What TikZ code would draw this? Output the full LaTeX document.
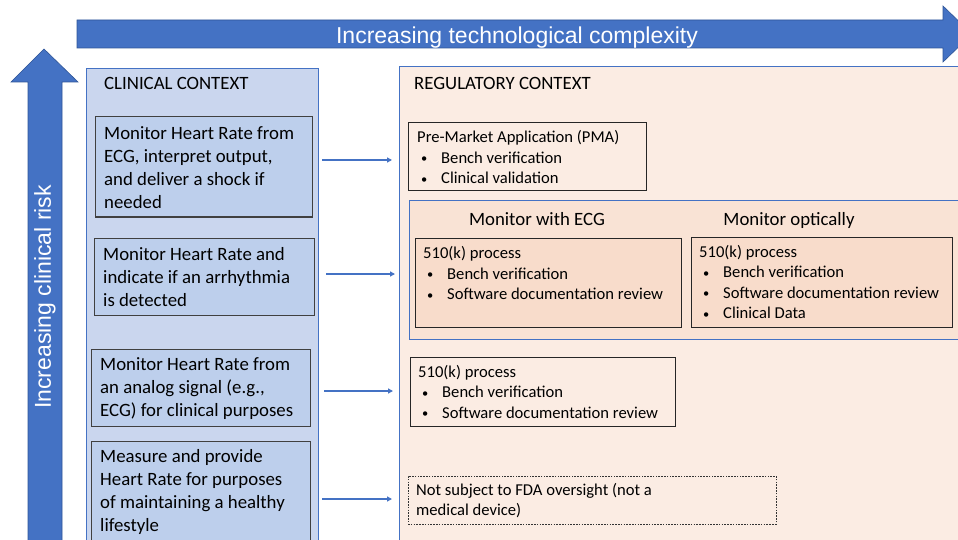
\documentclass[tikz,border=0pt]{standalone}
\usepackage{fontspec}
\setmainfont{Carlito}
\newfontfamily\arialfont{Liberation Sans}
\usetikzlibrary{arrows.meta}
\definecolor{tblue}{HTML}{4472C4}
\definecolor{tblueedge}{HTML}{2F5597}
\definecolor{clinpanel}{HTML}{CAD6EE}
\definecolor{clinbox}{HTML}{BDCFEC}
\definecolor{regpanel}{HTML}{FBECE3}
\definecolor{subpanel}{HTML}{F9E3D5}
\definecolor{kbox}{HTML}{F8DCCB}
\newcommand\itm[1]{\hspace*{4pt}\makebox[20pt][l]{\raisebox{0.5pt}{\scalebox{0.75}{\textbullet}}}#1}
\tikzset{
  panel/.style={draw=tblue, line width=0.8pt, inner sep=0pt},
  cbox/.style={draw=black!75, fill=clinbox, line width=1pt, inner sep=0pt},
  rbox/.style={draw=black!85, line width=0.9pt, inner sep=0pt},
  bigtxt/.style={inner sep=0pt, anchor=west, align=left, font=\fontsize{18.8}{23}\selectfont},
  smalltxt/.style={inner sep=0pt, anchor=west, align=left, font=\fontsize{16.6}{20.5}\selectfont},
  conn/.style={draw=tblue, line width=1.2pt, -{Triangle[length=5pt,width=5pt]}},
  arrowtxt/.style={inner sep=0pt, text=white, font=\arialfont\fontsize{23}{27}\selectfont}
}
\begin{document}
\begin{tikzpicture}[x=1pt,y=-1pt]
\useasboundingbox (0,0) rectangle (958,540);
\fill[white] (0,0) rectangle (958,540);
% top arrow
\draw[fill=tblue, draw=tblueedge, line width=0.6pt] (77,20) -- (943,20) -- (943,6) -- (972,34) -- (943,62) -- (943,48) -- (77,48) -- cycle;
\node[arrowtxt] (toptext) at (517,37.5) {Increasing technological complexity};
% left arrow
\draw[fill=tblue, draw=tblueedge, line width=0.6pt] (44,49) -- (78,82) -- (62,82) -- (62,570) -- (28,570) -- (28,82) -- (11,82) -- cycle;
\node[arrowtxt, rotate=90] (lefttext) at (45,297) {Increasing clinical risk};
% panels
\node[panel, fill=clinpanel, minimum width=232, minimum height=502] (clin) at (202,319) {};
\node[panel, fill=regpanel, minimum width=581, minimum height=504] (reg) at (689.5,318) {};
\node[bigtxt] (clintitle) at (104,83) {CLINICAL CONTEXT};
\node[bigtxt] (regtitle) at (414,83) {REGULATORY CONTEXT};
% clinical boxes
\node[cbox, minimum width=217, minimum height=100] (c1) at (203.5,167) {};
\node[cbox, minimum width=220, minimum height=77] (c2) at (204,276.5) {};
\node[cbox, minimum width=219, minimum height=77] (c3) at (200.5,387.5) {};
\node[cbox, minimum width=219, minimum height=129] (c4) at (200.5,505.5) {};
\node[bigtxt] (t1) at (104,168) {Monitor Heart Rate from\\ECG, interpret output,\\and deliver a shock if\\needed};
\node[bigtxt] (t2) at (103,277.5) {Monitor Heart Rate and\\indicate if an arrhythmia\\is detected};
\node[bigtxt] (t3) at (100,388.5) {Monitor Heart Rate from\\an analog signal (e.g.,\\ECG) for clinical purposes};
\node[bigtxt] (t4) at (100,492) {Measure and provide\\Heart Rate for purposes\\of maintaining a healthy\\lifestyle};
% regulatory boxes
\node[rbox, fill=regpanel, minimum width=238, minimum height=68] (pma) at (527,156) {};
\node[smalltxt] (pmat) at (417,157) {Pre-Market Application (PMA)\\\itm{Bench verification}\\\itm{Clinical validation}};
\node[panel, fill=subpanel, minimum width=571, minimum height=139] (sub) at (694.5,269.5) {};
\node[inner sep=0pt, font=\fontsize{18.8}{23}\selectfont] (ecgtitle) at (537,219) {Monitor with ECG};
\node[inner sep=0pt, font=\fontsize{18.8}{23}\selectfont] (opttitle) at (789,220) {Monitor optically};
\node[rbox, fill=kbox, minimum width=266, minimum height=89] (ecg) at (548,282.5) {};
\node[smalltxt] (ecgt) at (423,273) {510(k) process\\\itm{Bench verification}\\\itm{Software documentation review}};
\node[rbox, fill=kbox, minimum width=261, minimum height=90] (opt) at (821.5,282) {};
\node[smalltxt] (optt) at (699,282) {510(k) process\\\itm{Bench verification}\\\itm{Software documentation review}\\\itm{Clinical Data}};
\node[rbox, fill=regpanel, minimum width=265, minimum height=69] (k3) at (542.5,391.5) {};
\node[smalltxt] (k3t) at (418,391.5) {510(k) process\\\itm{Bench verification}\\\itm{Software documentation review}};
\node[draw=black!80, line width=0.8pt, dash pattern=on 1.6pt off 1.2pt, fill=regpanel, inner sep=0pt, minimum width=368, minimum height=48] (nf) at (592,500) {};
\node[smalltxt] (nft) at (416,500.5) {Not subject to FDA oversight (not a\\medical device)};
% connectors
\coordinate (a1s) at (322,160); \coordinate (a1e) at (392,160);
\coordinate (a2s) at (326,274); \coordinate (a2e) at (395,274);
\coordinate (a3s) at (324,391); \coordinate (a3e) at (393,391);
\coordinate (a4s) at (322,499); \coordinate (a4e) at (392,499);
\draw[conn] (a1s) -- (a1e);
\draw[conn] (a2s) -- (a2e);
\draw[conn] (a3s) -- (a3e);
\draw[conn] (a4s) -- (a4e);
\end{tikzpicture}
\end{document}
